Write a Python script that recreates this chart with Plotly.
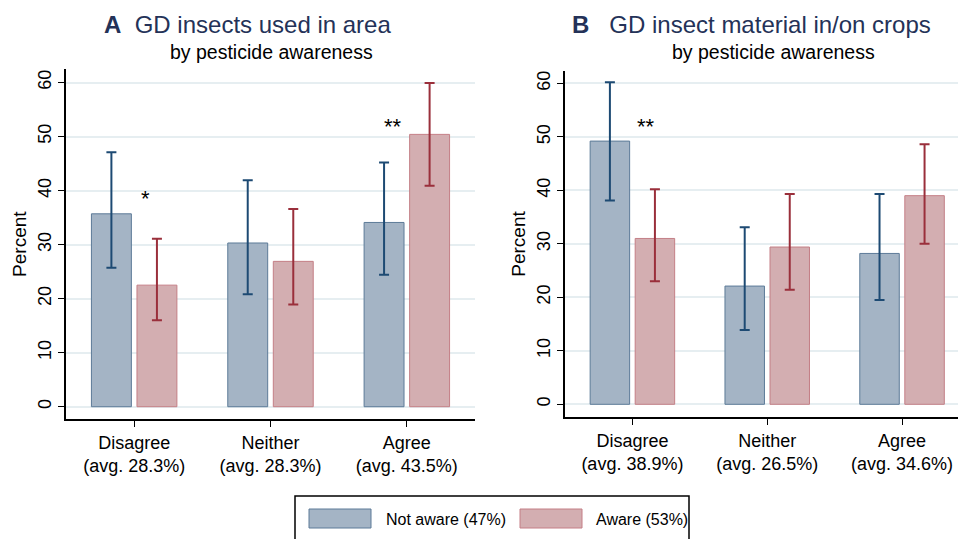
import plotly.graph_objects as go

categories = ["Disagree<br>(avg. 28.3%)", "Neither<br>(avg. 28.3%)", "Agree<br>(avg. 43.5%)"]
categories_b = ["Disagree<br>(avg. 38.9%)", "Neither<br>(avg. 26.5%)", "Agree<br>(avg. 34.6%)"]

# Panel A: GD insects used in area
a_not = [35.7, 30.3, 34.1]
a_not_hi = [47.1, 41.9, 45.2]
a_not_lo = [25.7, 20.8, 24.4]
a_aw = [22.5, 26.9, 50.4]
a_aw_hi = [31.1, 36.6, 59.9]
a_aw_lo = [16.0, 18.9, 40.9]

# Panel B: GD insect material in/on crops
b_not = [49.2, 22.1, 28.2]
b_not_hi = [60.2, 33.1, 39.3]
b_not_lo = [38.1, 13.9, 19.5]
b_aw = [31.0, 29.4, 39.0]
b_aw_hi = [40.2, 39.3, 48.6]
b_aw_lo = [23.0, 21.4, 30.0]

# significance stars: (category position, y, text)
stars_a = [(0.08, 38.6, "*"), (1.9, 51.9, "**")]
stars_b = [(0.1, 51.9, "**")]

yticks = [0, 10, 20, 30, 40, 50, 60]

C_NOT_FILL = "#a4b4c5"
C_NOT_LINE = "#5d7b98"
C_NOT_ERR = "#1d4a73"
C_AW_FILL = "#d3aeb1"
C_AW_LINE = "#c47f86"
C_AW_ERR = "#9a2f3b"
FONT = "Liberation Sans, Arial, sans-serif"
TITLE_C = "#243258"

fig = go.Figure()


def err(vals, hi, lo):
    return dict(type="data", symmetric=False,
                array=[h - v for h, v in zip(hi, vals)],
                arrayminus=[v - l for v, l in zip(vals, lo)],
                width=5, thickness=2)


for nv, nh, nl, av, ah, al, xa, ya in [
    (a_not, a_not_hi, a_not_lo, a_aw, a_aw_hi, a_aw_lo, "x", "y"),
    (b_not, b_not_hi, b_not_lo, b_aw, b_aw_hi, b_aw_lo, "x2", "y2"),
]:
    e1 = err(nv, nh, nl); e1["color"] = C_NOT_ERR
    e2 = err(av, ah, al); e2["color"] = C_AW_ERR
    fig.add_trace(go.Bar(x=list(range(3)), y=nv, error_y=e1, showlegend=False,
                         marker=dict(color=C_NOT_FILL, line=dict(color=C_NOT_LINE, width=1)),
                         xaxis=xa, yaxis=ya, name="Not aware (47%)"))
    fig.add_trace(go.Bar(x=list(range(3)), y=av, error_y=e2, showlegend=False,
                         marker=dict(color=C_AW_FILL, line=dict(color=C_AW_LINE, width=1)),
                         xaxis=xa, yaxis=ya, name="Aware (53%)"))

W, H = 958, 539

def px(x):
    return x / W

def py(y):
    return 1 - y / H

axis_common = dict(showline=True, linecolor="black", linewidth=1.5, ticks="outside",
                   ticklen=6, tickcolor="black", tickfont=dict(family=FONT, size=18, color="black"),
                   zeroline=False)

fig.update_layout(
    width=W, height=H, margin=dict(l=0, r=0, t=0, b=0),
    paper_bgcolor="white", plot_bgcolor="white",
    barmode="group", bargap=0.332, bargroupgap=0.123,
    font=dict(family=FONT, color="black"),
    xaxis=dict(domain=[px(66), px(475)], range=[-0.5, 2.5], tickvals=[0, 1, 2],
               ticktext=categories, showgrid=False, anchor="y", **axis_common),
    yaxis=dict(domain=[py(419.3), py(69)], range=[-2.33, 62.5], tickvals=yticks,
               tickangle=-90, showgrid=True, gridcolor="#e6eef1", gridwidth=1.5,
               anchor="x", title=dict(text="Percent", font=dict(family=FONT, size=19), standoff=3),
               **axis_common),
    xaxis2=dict(domain=[px(565), 1.0], range=[-0.5, 2.415], tickvals=[0, 1, 2],
                ticktext=categories_b, showgrid=False, anchor="y2", **axis_common),
    yaxis2=dict(domain=[py(417.3), py(70.7)], range=[-2.43, 62.36], tickvals=yticks,
                tickangle=-90, showgrid=True, gridcolor="#e6eef1", gridwidth=1.5,
                anchor="x2", title=dict(text="Percent", font=dict(family=FONT, size=19), standoff=3),
                **axis_common),
)

ann = []
for x, y, t in stars_a:
    ann.append(dict(x=x, y=y, xref="x", yref="y", text=t, showarrow=False,
                    font=dict(family=FONT, size=22, color="black")))
for x, y, t in stars_b:
    ann.append(dict(x=x, y=y, xref="x2", yref="y2", text=t, showarrow=False,
                    font=dict(family=FONT, size=22, color="black")))

ann.append(dict(x=px(248), y=py(24), xref="paper", yref="paper", showarrow=False,
                xanchor="center", yanchor="middle",
                text="<b>A</b>  GD insects used in area",
                font=dict(family=FONT, size=24, color=TITLE_C)))
ann.append(dict(x=px(271), y=py(52), xref="paper", yref="paper", showarrow=False,
                xanchor="center", yanchor="middle",
                text="by pesticide awareness", font=dict(family=FONT, size=19.5, color="black")))
ann.append(dict(x=px(751), y=py(24), xref="paper", yref="paper", showarrow=False,
                xanchor="center", yanchor="middle",
                text="<b>B</b>   GD insect material in/on crops",
                font=dict(family=FONT, size=24, color=TITLE_C)))
ann.append(dict(x=px(773), y=py(52), xref="paper", yref="paper", showarrow=False,
                xanchor="center", yanchor="middle",
                text="by pesticide awareness", font=dict(family=FONT, size=19.5, color="black")))

# custom legend
ann.append(dict(x=px(384), y=py(519), xref="paper", yref="paper", showarrow=False,
                xanchor="left", yanchor="middle", text="Not aware (47%)",
                font=dict(family=FONT, size=16, color="black")))
ann.append(dict(x=px(594), y=py(519), xref="paper", yref="paper", showarrow=False,
                xanchor="left", yanchor="middle", text="Aware (53%)",
                font=dict(family=FONT, size=16, color="black")))
fig.update_layout(annotations=ann)

shapes = [
    dict(type="rect", xref="paper", yref="paper", x0=px(295), x1=px(689), y0=py(545), y1=py(496),
         line=dict(color="black", width=1.5), fillcolor="rgba(0,0,0,0)"),
    dict(type="rect", xref="paper", yref="paper", x0=px(309), x1=px(371), y0=py(528), y1=py(509),
         line=dict(color=C_NOT_LINE, width=1), fillcolor=C_NOT_FILL),
    dict(type="rect", xref="paper", yref="paper", x0=px(520), x1=px(582), y0=py(528), y1=py(509),
         line=dict(color=C_AW_LINE, width=1), fillcolor=C_AW_FILL),
]
fig.update_layout(shapes=shapes)

fig.write_html("out.html")
